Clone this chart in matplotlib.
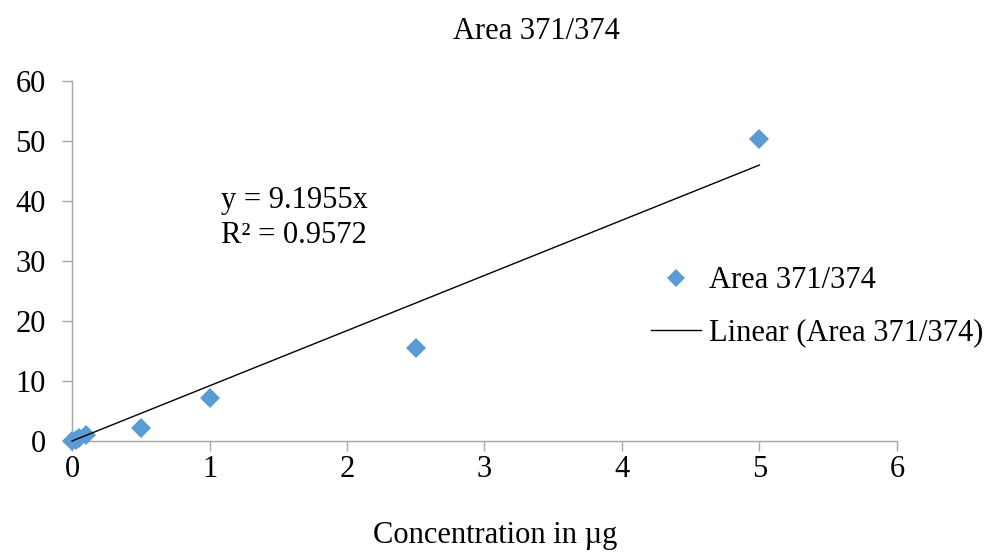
import numpy as np
import matplotlib
matplotlib.use('Agg')
import matplotlib.pyplot as plt
from matplotlib.lines import Line2D

plt.rcParams['font.family'] = ['Liberation Serif', 'DejaVu Serif']

# data
conc = [0, 0.025, 0.05, 0.1, 0.5, 1, 2.5, 5]
area = [0, 0.2, 0.5, 1.0, 2.2, 7.2, 15.5, 50.3]
slope = 9.1955
r2 = 0.9572
xticks = [0, 1, 2, 3, 4, 5, 6]
yticks = [0, 10, 20, 30, 40, 50, 60]

blue = '#5B9BD5'
gray = '#A6A6A6'
fs = 22

fig = plt.figure(figsize=(10.01, 5.54), dpi=100)
ax = fig.add_axes([0.072, 0.204, 0.824, 0.650])

ax.plot(conc, area, linestyle='none', marker='D', markersize=10,
        color=blue, markeredgewidth=0, zorder=3, clip_on=False)
fit_x = np.array([0, max(conc)])
ax.plot(fit_x, slope * fit_x, color='black', linewidth=1.0, zorder=4,
        clip_on=False)

ax.set_xlim(0, 6)
ax.set_ylim(0, 60)
ax.set_xticks(xticks)
ax.set_yticks(yticks)
ax.tick_params(labelsize=fs, length=7, width=1, color=gray, direction='out')
ax.tick_params(axis='y', pad=12)
ax.tick_params(axis='x', pad=3)
for s in ['top', 'right']:
    ax.spines[s].set_visible(False)
for s in ['left', 'bottom']:
    ax.spines[s].set_color(gray)
    ax.spines[s].set_linewidth(1)

ax.text(1.08, 31.8, 'y = 9.1955x\nR² = 0.9572', fontsize=fs, linespacing=1.27,
        va='bottom', ha='left')

fig.text(0.536, 0.943, 'Area 371/374', fontsize=fs, ha='center', va='center')
fig.text(0.495, 0.033, 'Concentration in µg', fontsize=fs, ha='center', va='center')

handles = [Line2D([], [], linestyle='none', marker='D', markersize=9.5,
                  color=blue, markeredgewidth=0),
           Line2D([], [], color='black', linewidth=1.0)]
fig.legend(handles, ['Area 371/374', 'Linear (Area 371/374)'],
           loc='center left', bbox_to_anchor=(0.638, 0.446), frameon=False,
           fontsize=fs, handlelength=1.64, handletextpad=0.25, labelspacing=0.75,
           borderaxespad=0)

fig.savefig('out.png', dpi=100)
